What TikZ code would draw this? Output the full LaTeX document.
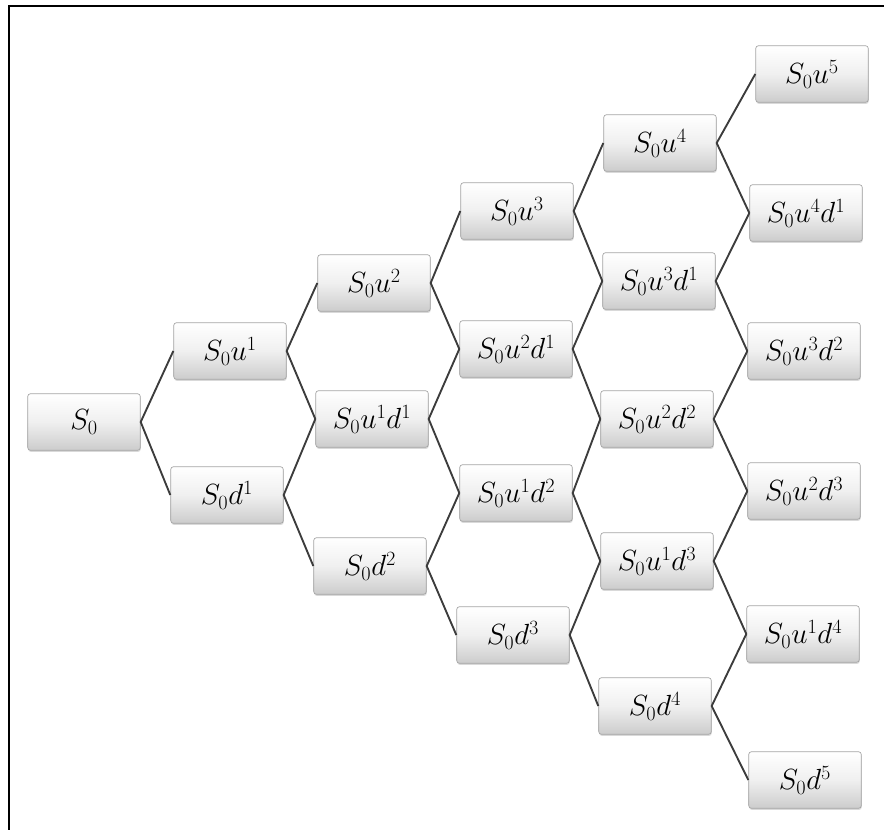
\documentclass[tikz,border=0pt]{standalone}
\usepackage{amsmath}
\usepackage{xcolor}
\usepackage{tikz}
\usetikzlibrary{shadows,positioning}
\definecolor{boxedge}{RGB}{165, 165, 165}
\definecolor{branchgray}{RGB}{60, 60, 60}

\begin{document}
\begin{tikzpicture}[x=0.03cm, y=-0.03cm,
    pricebox/.style={draw=boxedge, line width=0.6pt, rounded corners=2.5pt,
        top color=white, bottom color=black!20, middle color=black!6,
        minimum width=3.38cm, minimum height=1.7cm,
        inner sep=0pt, font=\fontsize{25}{28}\selectfont,
        drop shadow={opacity=0.3, shadow xshift=0.4pt, shadow yshift=-1.4pt}},
    branch/.style={draw=branchgray, line width=1.6pt}]
        \useasboundingbox (0, 0) rectangle (884, 830);
        % Frame (only left and top edges fall inside the picture)
        \draw[line width=2pt] (9, 830) -- (9, 6) -- (884, 6);

        % Step 0 and step 1
        \node[pricebox] (s0) at (84, 422) {$S_0$};
        \node[pricebox] (u1) at (230, 351) {$S_0u^1$};
        \node[pricebox] (d1) at (227, 495) {$S_0d^1$};

        % Step 2
        \node[pricebox] (u2) at (374, 283) {$S_0u^2$};
        \node[pricebox] (u1d1) at (372, 419) {$S_0u^1d^1$};
        \node[pricebox] (d2) at (370, 566) {$S_0d^2$};

        % Step 3
        \node[pricebox] (u3) at (517, 211) {$S_0u^3$};
        \node[pricebox] (u2d1) at (516, 349) {$S_0u^2d^1$};
        \node[pricebox] (u1d2) at (516, 493) {$S_0u^1d^2$};
        \node[pricebox] (d3) at (513, 635) {$S_0d^3$};

        % Step 4
        \node[pricebox] (u4) at (660, 143) {$S_0u^4$};
        \node[pricebox] (u3d1) at (659, 281) {$S_0u^3d^1$};
        \node[pricebox] (u2d2) at (657, 419) {$S_0u^2d^2$};
        \node[pricebox] (u1d3) at (657, 561) {$S_0u^1d^3$};
        \node[pricebox] (d4) at (655, 706) {$S_0d^4$};

        % Step 5
        \node[pricebox] (u5) at (812, 74) {$S_0u^5$};
        \node[pricebox] (u4d1) at (806, 213) {$S_0u^4d^1$};
        \node[pricebox] (u3d2) at (804, 351) {$S_0u^3d^2$};
        \node[pricebox] (u2d3) at (804, 491) {$S_0u^2d^3$};
        \node[pricebox] (u1d4) at (803, 634) {$S_0u^1d^4$};
        \node[pricebox] (d5) at (805, 780) {$S_0d^5$};

        % Branches
        \draw[branch] (u1.west) -- (s0.east) -- (d1.west);
        \draw[branch] (u2.west) -- (u1.east) -- (u1d1.west);
        \draw[branch] (u1d1.west) -- (d1.east) -- (d2.west);
        \draw[branch] (u3.west) -- (u2.east) -- (u2d1.west);
        \draw[branch] (u2d1.west) -- (u1d1.east) -- (u1d2.west);
        \draw[branch] (u1d2.west) -- (d2.east) -- (d3.west);
        \draw[branch] (u4.west) -- (u3.east) -- (u3d1.west);
        \draw[branch] (u3d1.west) -- (u2d1.east) -- (u2d2.west);
        \draw[branch] (u2d2.west) -- (u1d2.east) -- (u1d3.west);
        \draw[branch] (u1d3.west) -- (d3.east) -- (d4.west);
        \draw[branch] (u5.west) -- (u4.east) -- (u4d1.west);
        \draw[branch] (u4d1.west) -- (u3d1.east) -- (u3d2.west);
        \draw[branch] (u3d2.west) -- (u2d2.east) -- (u2d3.west);
        \draw[branch] (u2d3.west) -- (u1d3.east) -- (u1d4.west);
        \draw[branch] (u1d4.west) -- (d4.east) -- (d5.west);
    \end{tikzpicture}
\end{document}
